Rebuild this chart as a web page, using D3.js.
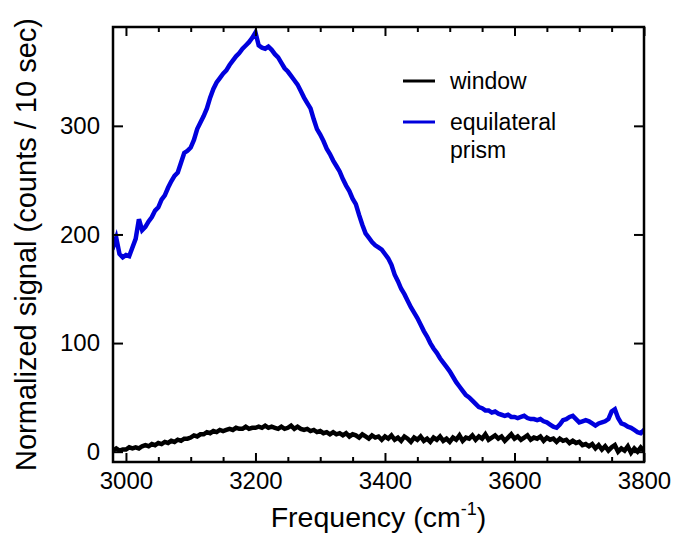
<!DOCTYPE html>
<html><head><meta charset="utf-8">
<script src="https://cdn.jsdelivr.net/npm/d3@7"></script>
<style>body{margin:0;background:#fff}svg{display:block}text{font-family:"Liberation Sans",Arial,sans-serif;fill:#000}</style>
</head><body>
<script>
// ---- data ----
const freqStart = 2980, freqStep = 5;
const prism = [188,197,182,179,181,180,188,196,214,204,207,212,216,222,225,232,236,243,249,254,257,266,275,277,280,287,297,303,309,316,326,334,340,344,348,351,356,360,364,367,371,374,377,381,386,374,372,371,373,370,366,363,358,353,350,346,342,338,332,326,321,316,306,297,292,286,279,274,268,263,258,251,245,240,233,228,218,209,201,197,193,190,188,186,182,178,172,163,157,150,145,139,133,128,123,117,111,106,100,95,91,86,82,78,74,69,64,60,56,52,50,47,44,41,40,38,38,36,37,35,34,33,34,32,32,31,32,33,31,30,30,29,30,28,27,25,23,22,25,29,30,32,33,30,27,28,29,28,26,24,26,27,28,30,37,39,31,26,25,23,22,20,18,17,20];
const windowSig = [1,3,1,2,2,4,3,4,3,5,6,5,7,6,8,7,9,8,10,9,11,10,12,12,13,15,14,16,16,18,17,19,18,20,19,20,21,20,22,21,21,23,21,22,22,23,22,24,22,23,22,21,23,21,22,24,21,23,21,20,21,19,20,18,19,17,18,16,18,16,17,15,17,14,16,15,13,16,14,12,15,13,14,11,14,12,15,11,13,10,14,12,9,13,11,14,10,12,9,13,11,14,10,12,9,13,11,15,10,13,12,15,11,14,12,16,11,13,15,12,14,10,13,16,12,14,11,13,15,11,13,12,14,10,13,11,12,9,12,10,11,8,10,8,9,6,7,5,7,3,6,2,5,1,4,6,0,3,1,5,-1,3,0,4,1];
const xTicks = [3000,3200,3400,3600,3800];
const xMinorTicks = [3050,3100,3150,3250,3300,3350,3450,3500,3550,3650,3700,3750];
const yTicks = [0,100,200,300];
const seriesNames = ["window","equilateral prism"];
const seriesColors = ["#000000","#0000dd"];

const W = 678, H = 536;
const L = 113, R = 644, T = 27, B = 462;
const svg = d3.select("body").append("svg").attr("width", W).attr("height", H);
const x = d3.scaleLinear().domain([2980, 3800]).range([L, R]);
const y = d3.scaleLinear().domain([-9.5, 391]).range([B, T]);

svg.append("clipPath").attr("id","clip").append("rect")
  .attr("x", L).attr("y", T).attr("width", R - L).attr("height", B - T);

const line = d3.line().x((d,i) => x(freqStart + i*freqStep)).y(d => y(d));
const g = svg.append("g").attr("clip-path","url(#clip)");
g.append("path").datum(windowSig).attr("d", line).attr("fill","none")
  .attr("stroke", seriesColors[0]).attr("stroke-width", 4.5).attr("stroke-linejoin","miter").attr("stroke-linecap","square");
g.append("path").datum(prism).attr("d", line).attr("fill","none")
  .attr("stroke", seriesColors[1]).attr("stroke-width", 4.5).attr("stroke-linejoin","miter").attr("stroke-linecap","square");

// axes (ticks inward on all four sides)
const fs = 24;
const axB = svg.append("g").attr("transform",`translate(0,${B})`)
  .call(d3.axisBottom(x).tickValues(xTicks).tickSizeInner(-9).tickSizeOuter(0).tickFormat(d3.format("d")));
const axBm = svg.append("g").attr("transform",`translate(0,${B})`)
  .call(d3.axisBottom(x).tickValues(xMinorTicks).tickSizeInner(-5).tickSizeOuter(0).tickFormat(""));
const axT = svg.append("g").attr("transform",`translate(0,${T})`)
  .call(d3.axisTop(x).tickValues(xTicks).tickSizeInner(-9).tickSizeOuter(0).tickFormat(""));
const axTm = svg.append("g").attr("transform",`translate(0,${T})`)
  .call(d3.axisTop(x).tickValues(xMinorTicks).tickSizeInner(-5).tickSizeOuter(0).tickFormat(""));
const axL = svg.append("g").attr("transform",`translate(${L},0)`)
  .call(d3.axisLeft(y).tickValues(yTicks).tickSizeInner(-10).tickSizeOuter(0).tickFormat(d3.format("d")));
const axR = svg.append("g").attr("transform",`translate(${R},0)`)
  .call(d3.axisRight(y).tickValues(yTicks).tickSizeInner(-10).tickSizeOuter(0).tickFormat(""));
[axB,axBm,axT,axTm,axL,axR].forEach(a => {
  a.select(".domain").remove();
  a.selectAll(".tick line").attr("stroke","#000").attr("stroke-width",2);
});
axB.selectAll(".tick text").attr("y", 0).attr("dy", 0).attr("transform","translate(0,27)")
  .style("font-size", fs+"px").style("font-family",'"Liberation Sans",Arial,sans-serif').attr("fill","#000");
axL.selectAll(".tick text").attr("x", -13).attr("dy","0.32em")
  .style("font-size", fs+"px").style("font-family",'"Liberation Sans",Arial,sans-serif').attr("fill","#000");

// frame
svg.append("rect").attr("x", L).attr("y", T).attr("width", R-L).attr("height", B-T)
  .attr("fill","none").attr("stroke","#000").attr("stroke-width",2.5);

// axis titles
const xt = svg.append("text").attr("x", (L+R)/2).attr("y", 527).attr("text-anchor","middle").style("font-size","28.5px");
xt.append("tspan").text("Frequency (cm");
xt.append("tspan").attr("dy",-12).style("font-size","18px").text("-1");
xt.append("tspan").attr("dy",12).text(")");
svg.append("text").attr("transform",`translate(36,${(T+B)/2}) rotate(-90)`).attr("text-anchor","middle")
  .style("font-size","29px").text("Normalized signal (counts / 10 sec)");

// legend
const leg = svg.append("g");
leg.append("line").attr("x1",403).attr("x2",435).attr("y1",81).attr("y2",81).attr("stroke",seriesColors[0]).attr("stroke-width",3);
leg.append("text").attr("x",450).attr("y",89).style("font-size","23px").text(seriesNames[0]);
leg.append("line").attr("x1",403).attr("x2",435).attr("y1",122).attr("y2",122).attr("stroke",seriesColors[1]).attr("stroke-width",3);
const lt = leg.append("text").attr("x",450).attr("y",130).style("font-size","23px");
lt.append("tspan").attr("x",450).text(seriesNames[1].split(" ")[0]);
lt.append("tspan").attr("x",450).attr("dy",28).text(seriesNames[1].split(" ")[1]);
</script>
</body></html>
